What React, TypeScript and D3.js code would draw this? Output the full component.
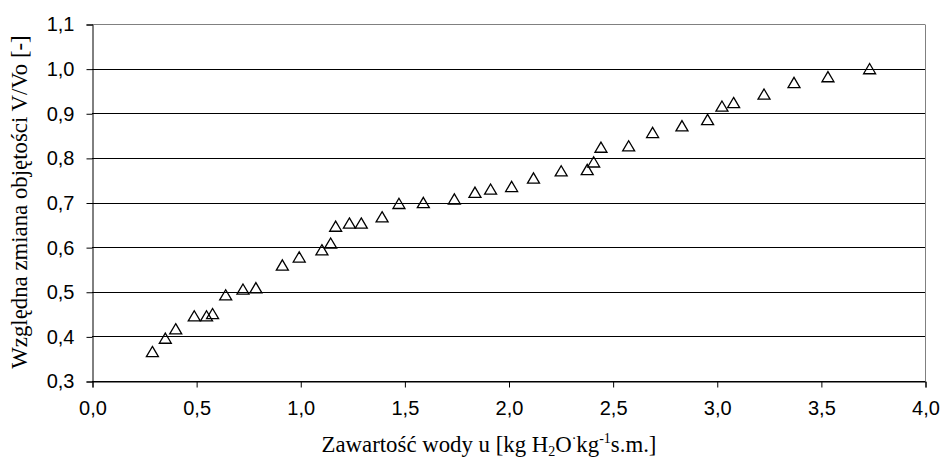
import React, { useRef, useEffect } from 'react';
import * as d3 from 'd3';

// water content u [kg H2O/kg s.m.]
const moisture = [
  0.29, 0.352, 0.402, 0.491, 0.55, 0.579, 0.642, 0.725, 0.787, 0.914, 0.995,
  1.104, 1.146, 1.17, 1.236, 1.293, 1.393, 1.474, 1.591, 1.74, 1.839, 1.914,
  2.015, 2.12, 2.253, 2.378, 2.409, 2.444, 2.577, 2.692, 2.833, 2.956, 3.025,
  3.081, 3.227, 3.371, 3.534, 3.734,
];
// relative volume change V/Vo
const volumeRatio = [
  0.366, 0.396, 0.417, 0.446, 0.446, 0.451, 0.493, 0.506, 0.509, 0.56, 0.578,
  0.594, 0.609, 0.647, 0.654, 0.654, 0.668, 0.698, 0.70, 0.708, 0.723, 0.730,
  0.736, 0.755, 0.771, 0.774, 0.791, 0.824, 0.827, 0.857, 0.872, 0.886, 0.916,
  0.924, 0.943, 0.969, 0.982, 1.0,
];
const xTicks = [0, 0.5, 1, 1.5, 2, 2.5, 3, 3.5, 4];
const yTicks = [0.3, 0.4, 0.5, 0.6, 0.7, 0.8, 0.9, 1.0, 1.1];

const fmt = (v: number) => d3.format('.1f')(v).replace('.', ',');

// excel-like open triangle, centred on its bounding box
const triangle = {
  draw(ctx: any, size: number) {
    const w = Math.sqrt(size);
    const h = w * 0.85;
    ctx.moveTo(0, -h / 2);
    ctx.lineTo(w / 2, h / 2);
    ctx.lineTo(-w / 2, h / 2);
    ctx.closePath();
  },
};

const App = () => {
  const svgRef = useRef<SVGSVGElement>(null);

  useEffect(() => {
    const svg = d3.select(svgRef.current);
    svg.selectAll('*').remove();

    const width = 940;
    const height = 459;
    const margin = { top: 24, right: 15, bottom: 78, left: 92 };

    const x = d3.scaleLinear().domain([0, 4]).range([margin.left, width - margin.right]);
    const y = d3.scaleLinear().domain([0.3, 1.1]).range([height - margin.bottom, margin.top]);

    svg.attr('width', width).attr('height', height);

    // horizontal grid lines
    svg.append('g')
      .selectAll('line')
      .data(yTicks)
      .join('line')
      .attr('x1', margin.left)
      .attr('x2', width - margin.right)
      .attr('y1', d => Math.round(y(d)) + 0.5)
      .attr('y2', d => Math.round(y(d)) + 0.5)
      .attr('stroke', (d, i) => (i === yTicks.length - 1 ? '#808080' : '#000'))
      .attr('stroke-width', 1);

    // right border
    svg.append('line')
      .attr('x1', width - margin.right + 0.5)
      .attr('x2', width - margin.right + 0.5)
      .attr('y1', Math.round(y(1.1)) + 0.5)
      .attr('y2', Math.round(y(0.3)) + 0.5)
      .attr('stroke', '#808080');

    // axes
    const yAxis = d3.axisLeft(y).tickValues(yTicks).tickFormat(d => fmt(+d)).tickSizeOuter(0).tickSize(6).tickPadding(12);
    const gy = svg.append('g')
      .attr('transform', `translate(${margin.left + 0.5}, 0.5)`)
      .call(yAxis);
    gy.selectAll('text')
      .attr('font-family', '"Liberation Sans", Arial, sans-serif')
      .attr('font-size', 20)
      .attr('fill', '#000');
    gy.selectAll('line,path').attr('stroke', '#000');

    const xAxis = d3.axisBottom(x).tickValues(xTicks).tickFormat(d => fmt(+d)).tickSizeOuter(0).tickSize(6).tickPadding(13);
    const gx = svg.append('g')
      .attr('transform', `translate(0.5, ${Math.round(y(0.3)) + 0.5})`)
      .call(xAxis);
    gx.selectAll('text')
      .attr('font-family', '"Liberation Sans", Arial, sans-serif')
      .attr('font-size', 20)
      .attr('fill', '#000');
    gx.selectAll('line,path').attr('stroke', '#000');

    // data points
    const tri = d3.symbol().type(triangle as any).size(144);
    svg.append('g')
      .selectAll('path')
      .data(moisture)
      .join('path')
      .attr('transform', (d, i) => `translate(${x(d)}, ${y(volumeRatio[i])})`)
      .attr('d', tri())
      .attr('fill', 'none')
      .attr('stroke', '#000')
      .attr('stroke-width', 1.3);

    // y axis title
    svg.append('text')
      .attr('transform', `translate(27, 202) rotate(-90)`)
      .attr('text-anchor', 'middle')
      .attr('font-family', '"Liberation Serif", "Times New Roman", serif')
      .attr('font-size', 22.8)
      .text('Względna zmiana objętości V/Vo [-]');

    // x axis title
    const xt = svg.append('text')
      .attr('x', 489)
      .attr('y', 452)
      .attr('text-anchor', 'middle')
      .attr('font-family', '"Liberation Serif", "Times New Roman", serif')
      .attr('font-size', 22.8);
    xt.append('tspan').text('Zawartość wody u [kg H');
    xt.append('tspan').attr('font-size', 14).attr('dy', 4).text('2');
    xt.append('tspan').attr('dy', -4).text('O');
    xt.append('tspan').attr('font-size', 14).attr('dy', -9).text('·');
    xt.append('tspan').attr('dy', 9).text('kg');
    xt.append('tspan').attr('font-size', 14).attr('dy', -9).text('-1');
    xt.append('tspan').attr('dy', 9).text('s.m.]');
  }, []);

  return (
    <svg ref={svgRef} style={{ position: 'absolute', left: 0, top: 0, background: '#fff' }}></svg>
  );
};

export default App;
